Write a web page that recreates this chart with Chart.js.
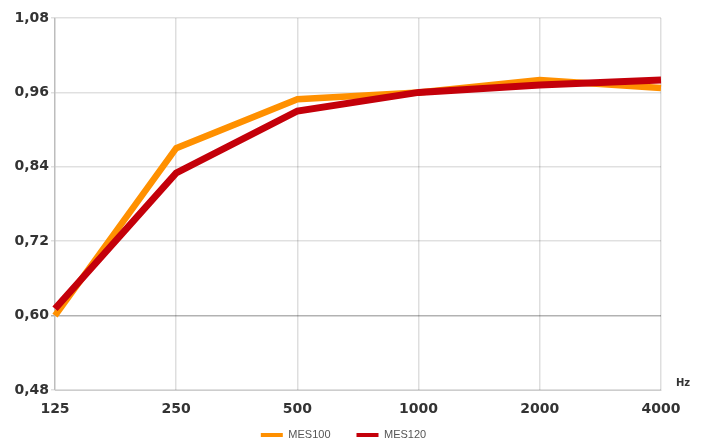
<!DOCTYPE html>
<html>
<head>
<meta charset="utf-8">
<script src="https://cdn.jsdelivr.net/npm/chart.js@4/dist/chart.umd.min.js"></script>
<style>
  html, body { margin: 0; padding: 0; background: #fff; }
  #wrap { width: 709px; height: 441px; }
</style>
</head>
<body>
<div id="wrap"><canvas id="chart"></canvas></div>
<script>
const frequencies = ['125', '250', '500', '1000', '2000', '4000'];
const mes100 = [0.60, 0.87, 0.949, 0.96, 0.98, 0.967];
const mes120 = [0.611, 0.83, 0.93, 0.96, 0.972, 0.98];
const yTicks = [0.48, 0.60, 0.72, 0.84, 0.96, 1.08];

const tickFont = { size: 14, weight: 'bold', family: '"DejaVu Sans", Verdana, sans-serif' };

// "Hz" unit next to the last x label
const hzLabel = {
  id: 'hzLabel',
  afterDraw(chart) {
    const { ctx, chartArea } = chart;
    ctx.save();
    ctx.font = 'bold 10px "DejaVu Sans", Verdana, sans-serif';
    ctx.fillStyle = '#333';
    ctx.textAlign = 'left';
    ctx.textBaseline = 'middle';
    ctx.fillText('Hz', chartArea.right + 15, chartArea.bottom - 7);
    ctx.restore();
  }
};

// legend sits lower and a bit right of where chart.js would put it
const legendPlace = {
  id: 'legendPlace',
  beforeUpdate(chart) {
    const lg = chart.legend;
    if (lg && !lg._patched) {
      const fit = lg.fit;
      lg.fit = function () { fit.call(this); this.height = 25; };
      lg._patched = true;
    }
  },
  afterLayout(chart) {
    const lg = chart.legend;
    lg.top = 435 - 26 - 5.5;
    lg.left += 13;
    lg.right += 13;
  }
};

new Chart(document.getElementById('chart'), {
  type: 'line',
  data: {
    labels: frequencies,
    datasets: [
      {
        label: 'MES100',
        data: mes100,
        borderColor: '#ff9000',
        backgroundColor: '#ff9000',
        borderWidth: 6.5,
        pointRadius: 0,
        tension: 0,
        order: 1,
      },
      {
        label: 'MES120',
        data: mes120,
        borderColor: '#c4000a',
        backgroundColor: '#c4000a',
        borderWidth: 7,
        pointRadius: 0,
        tension: 0,
        order: 0,
      },
    ],
  },
  options: {
    responsive: true,
    maintainAspectRatio: false,
    animation: false,
    layout: { padding: { top: 18, right: 48, left: 0, bottom: 0 } },
    plugins: {
      tooltip: { enabled: false },
      legend: {
        position: 'bottom',
        labels: {
          boxWidth: 22,
          boxHeight: 4,
          padding: 26,
          color: '#555',
          sort: (a, b) => a.datasetIndex - b.datasetIndex,
          generateLabels: chart =>
            Chart.defaults.plugins.legend.labels.generateLabels(chart)
              .map(item => ({ ...item, lineWidth: 0 })),
          font: { size: 11, family: '"Liberation Sans", Arial, sans-serif' },
        },
      },
    },
    scales: {
      x: {
        offset: false,
        grid: { color: 'rgba(0,0,0,0.13)', lineWidth: 1.5, drawTicks: false },
        border: { color: 'rgba(0,0,0,0.15)' },
        ticks: {
          color: '#333',
          padding: 11,
          maxRotation: 0,
          font: tickFont,
        },
        afterFit(scale) { scale.height = 26; },
      },
      y: {
        min: 0.48,
        max: 1.08,
        afterBuildTicks(scale) { scale.ticks = yTicks.map(v => ({ value: v })); },
        grid: {
          color: ctx => (ctx.tick && Math.abs(ctx.tick.value - 0.60) < 1e-6) ? 'rgba(0,0,0,0.3)' : 'rgba(0,0,0,0.12)',
          lineWidth: 1.5,
          drawTicks: true,
          tickLength: 4,
        },
        border: { color: 'rgba(0,0,0,0.15)', width: 1.5 },
        ticks: {
          color: '#333',
          padding: 2,
          callback: v => v.toFixed(2).replace('.', ','),
          font: tickFont,
        },
        afterFit(scale) { scale.width = 55; },
      },
    },
  },
  plugins: [hzLabel, legendPlace],
});
</script>
</body>
</html>
